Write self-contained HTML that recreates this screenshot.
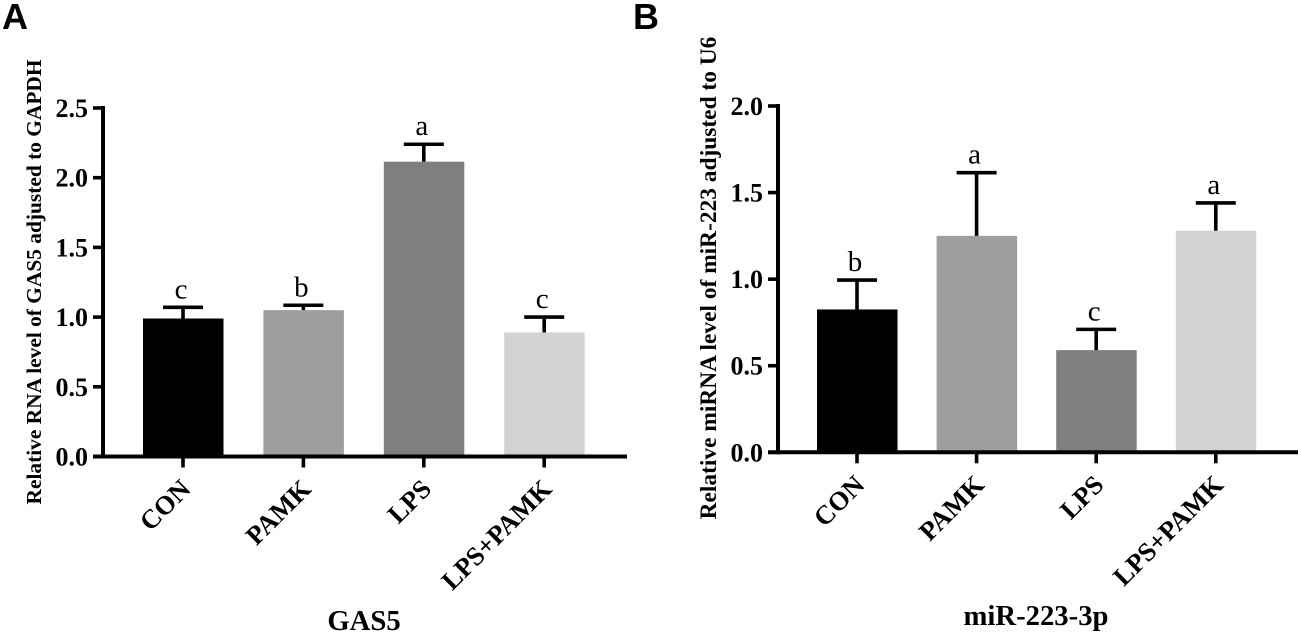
<!DOCTYPE html>
<html>
<head>
<meta charset="utf-8">
<style>
html,body{margin:0;padding:0;background:#fff;width:1301px;height:635px;overflow:hidden}
svg{display:block;filter:blur(0.35px)}
text{font-family:"Liberation Serif",serif;fill:#000}
.tick{font-weight:700;font-size:26px}
.cat{font-weight:700;font-size:26.5px}
.sig{font-size:29px}
.ytitle-a{font-weight:700;font-size:21.4px}
.ytitle-b{font-weight:700;font-size:23.4px}
.xtitle{font-weight:700;font-size:28.7px}
.panel{font-family:"Liberation Sans",sans-serif;font-weight:700;font-size:36px}
</style>
</head>
<body>
<svg id="figure" xmlns="http://www.w3.org/2000/svg" width="1301" height="635" viewBox="0 0 1301 635">
  <text class="panel" x="2" y="29">A</text>
  <text class="panel" x="633" y="29">B</text>
  <text class="ytitle-a" text-anchor="middle" transform="translate(41,282) rotate(-90)">Relative RNA level of GAS5 adjusted to GAPDH</text>
  <text class="ytitle-b" text-anchor="middle" transform="translate(716,278) rotate(-90)">Relative miRNA level of miR-223 adjusted to U6</text>
  <text class="xtitle" text-anchor="middle" x="364" y="630">GAS5</text>
  <text class="xtitle" text-anchor="middle" x="1036" y="625">miR-223-3p</text>
</svg>
<script>
const categories = ['CON', 'PAMK', 'LPS', 'LPS+PAMK'];
const barColors = ['#000000', '#9e9e9f', '#7f7f7f', '#d2d2d2'];

const gas5Means = [0.99, 1.05, 2.115, 0.89];
const gas5ErrorTops = [1.07, 1.085, 2.24, 1.00];
const gas5Letters = ['c', 'b', 'a', 'c'];
const gas5Ticks = [0, 0.5, 1.0, 1.5, 2.0, 2.5];

const mirMeans = [0.825, 1.25, 0.59, 1.28];
const mirErrorTops = [0.995, 1.615, 0.71, 1.44];
const mirLetters = ['b', 'a', 'c', 'a'];
const mirTicks = [0, 0.5, 1.0, 1.5, 2.0];

const svg = document.getElementById('figure');
const NS = 'http://www.w3.org/2000/svg';

function make(tag, attrs, parent) {
  const el = document.createElementNS(NS, tag);
  for (const k in attrs) el.setAttribute(k, attrs[k]);
  parent.appendChild(el);
  return el;
}

function drawPanel(id, cfg, means, tops, letters, ticks) {
  const g = make('g', {}, svg);
  
  

  const y = v => cfg.y0 - (v / cfg.yMax) * (cfg.y0 - cfg.yTop);
  const x = i => cfg.x0 + i * cfg.step;

  categories.forEach((name, i) => {
    const cx = x(i);
    const bar = make('rect', {
      x: cx - 40, y: y(means[i]), width: 80.5, height: cfg.y0 - y(means[i]), fill: barColors[i]
    }, g);
    
    

    const stem = make('line', {
      x1: cx, x2: cx, y1: y(means[i]), y2: y(tops[i]), stroke: '#000', 'stroke-width': 3.6
    }, g);
    
    

    const cap = make('line', {
      x1: cx - 20, x2: cx + 20, y1: y(tops[i]), y2: y(tops[i]), stroke: '#000', 'stroke-width': 3.6
    }, g);
    
    

    const sig = make('text', {
      class: 'sig', 'text-anchor': 'middle', x: cx - 2, y: y(tops[i]) - 9
    }, g);
    sig.textContent = letters[i];
    
    

    const tk = make('line', {
      x1: cx, x2: cx, y1: cfg.y0, y2: cfg.y0 + 11, stroke: '#000', 'stroke-width': 3.6
    }, g);
    
    

    const lab = make('text', {
      class: 'cat', 'text-anchor': 'end',
      transform: 'translate(' + (cx + 9) + ',' + (cfg.y0 + 34) + ') rotate(-45)'
    }, g);
    lab.textContent = name;
    
    
  });

  const yAxis = make('line', {
    x1: cfg.axisX, x2: cfg.axisX, y1: cfg.yTop - 2, y2: cfg.y0 + 2, stroke: '#000', 'stroke-width': 4
  }, g);
  
  

  const xAxis = make('line', {
    x1: cfg.axisX - 10, x2: cfg.xEnd, y1: cfg.y0, y2: cfg.y0, stroke: '#000', 'stroke-width': 4
  }, g);
  
  

  ticks.forEach(t => {
    const tk = make('line', {
      x1: cfg.axisX - 10, x2: cfg.axisX, y1: y(t), y2: y(t), stroke: '#000', 'stroke-width': 3.6
    }, g);
    
    

    const lab = make('text', {
      class: 'tick', 'text-anchor': 'end', x: cfg.axisX - 15, y: y(t) + 9
    }, g);
    lab.textContent = t.toFixed(1);
    
    
  });
}

drawPanel('gas5', { x0: 183, step: 120.4, y0: 456.5, yTop: 108, yMax: 2.5, axisX: 103, xEnd: 627 },
  gas5Means, gas5ErrorTops, gas5Letters, gas5Ticks);
drawPanel('mir223', { x0: 857, step: 119.6, y0: 452.3, yTop: 106, yMax: 2.0, axisX: 778, xEnd: 1298 },
  mirMeans, mirErrorTops, mirLetters, mirTicks);
</script>
</body>
</html>
